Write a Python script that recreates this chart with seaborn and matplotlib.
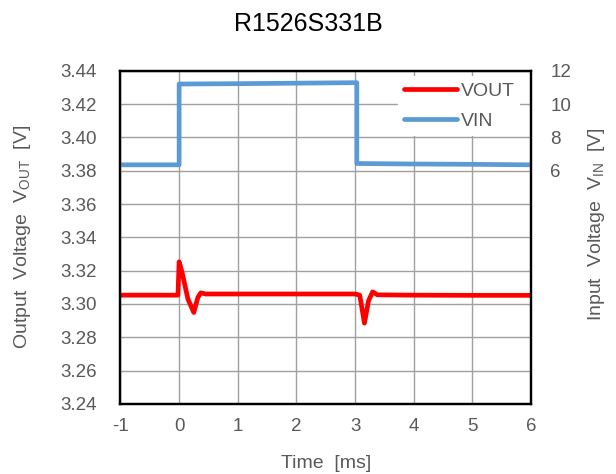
import numpy as np
import pandas as pd
import matplotlib
matplotlib.use("Agg")
import matplotlib.pyplot as plt
import seaborn as sns

# VOUT waveform (time in ms, voltage in V)
vout_time = [-1.0, -0.5, -0.02, 0.0, 0.05, 0.15, 0.25, 0.32, 0.37, 0.45, 1.0, 2.0,
             3.0, 3.08, 3.16, 3.23, 3.30, 3.38, 4.0, 5.0, 6.0]
vout_volt = [3.3053, 3.3053, 3.3053, 3.3253, 3.319, 3.303, 3.2949, 3.304, 3.3067, 3.306,
             3.306, 3.306, 3.306, 3.3053, 3.2885, 3.302, 3.3073, 3.3055, 3.3053, 3.3052, 3.3052]

# VIN waveform
vin_time = [-1.0, 0.0, 0.0, 1.0, 2.0, 3.0, 3.03, 3.03, 4.0, 5.0, 6.0]
vin_volt = [6.35, 6.35, 11.2, 11.22, 11.25, 11.28, 11.28, 6.43, 6.40, 6.38, 6.35]

x_ticks = [-1, 0, 1, 2, 3, 4, 5, 6]
left_ticks = [3.24, 3.26, 3.28, 3.30, 3.32, 3.34, 3.36, 3.38, 3.40, 3.42, 3.44]
right_ticks = [6, 8, 10, 12]

sns.set_theme(style="white")
plt.rcParams['font.family'] = ['Liberation Sans', 'DejaVu Sans']
plt.rcParams['mathtext.default'] = 'regular'

grey = '#595959'
fig = plt.figure(figsize=(6.16, 4.74), dpi=100)
ax = fig.add_axes([0.1956, 0.1477, 0.6664, 0.7032])
ax2 = ax.twinx()

df_out = pd.DataFrame({'t': vout_time, 'v': vout_volt})
df_in = pd.DataFrame({'t': vin_time, 'v': vin_volt})

sns.lineplot(data=df_out, x='t', y='v', ax=ax, color='#ff0000', lw=3.4,
             sort=False, estimator=None, label='VOUT', legend=False)
sns.lineplot(data=df_in, x='t', y='v', ax=ax2, color='#5b9bd5', lw=3.4,
             sort=False, estimator=None, label='VIN', legend=False)

ax.set_xlim(-1, 6)
ax.set_ylim(3.24, 3.44)
ax2.set_ylim(-8, 12)
ax.set_xticks(x_ticks)
ax.set_xticklabels([str(t) for t in x_ticks])
ax.set_yticks(left_ticks)
ax.set_yticklabels([f'{v:.2f}' for v in left_ticks])
ax2.set_yticks(right_ticks)
ax2.set_yticklabels([str(v) for v in right_ticks])

ax.grid(True, color='#a0a0a0', lw=1)
ax2.grid(False)
for a in (ax, ax2):
    for s in a.spines.values():
        s.set_color('black')
        s.set_linewidth(1.6)
ax.tick_params(axis='x', length=0, pad=10, labelsize=13.5, labelcolor=grey)
ax.tick_params(axis='y', length=0, pad=17, labelsize=13.5, labelcolor=grey)
ax2.tick_params(axis='y', length=0, pad=14, labelsize=13.5, labelcolor=grey)

ax.set_xlabel('Time  [ms]', fontsize=14, color=grey)
ax.set_ylabel('Output  Voltage  V$_{OUT}$  [V]', fontsize=14, color=grey)
ax2.set_ylabel('Input  Voltage  V$_{IN}$  [V]', fontsize=14, color=grey)
ax.xaxis.set_label_coords(0.5, -0.152)
ax.yaxis.set_label_coords(-0.212, 0.5)
ax2.yaxis.set_label_coords(1.134, 0.54)

fig.text(0.5, 0.949, 'R1526S331B', ha='center', va='center', fontsize=18, color='black')

h1, l1 = ax.get_legend_handles_labels()
h2, l2 = ax2.get_legend_handles_labels()
leg = ax2.legend(h1 + h2, l1 + l2, loc='upper right', bbox_to_anchor=(0.998, 1.012),
                 fontsize=14, handlelength=2.7, frameon=True, framealpha=1,
                 facecolor='white', edgecolor='none', labelcolor=grey,
                 borderpad=0.3, labelspacing=0.65, handletextpad=0.2)

fig.savefig('out.png', dpi=100)
